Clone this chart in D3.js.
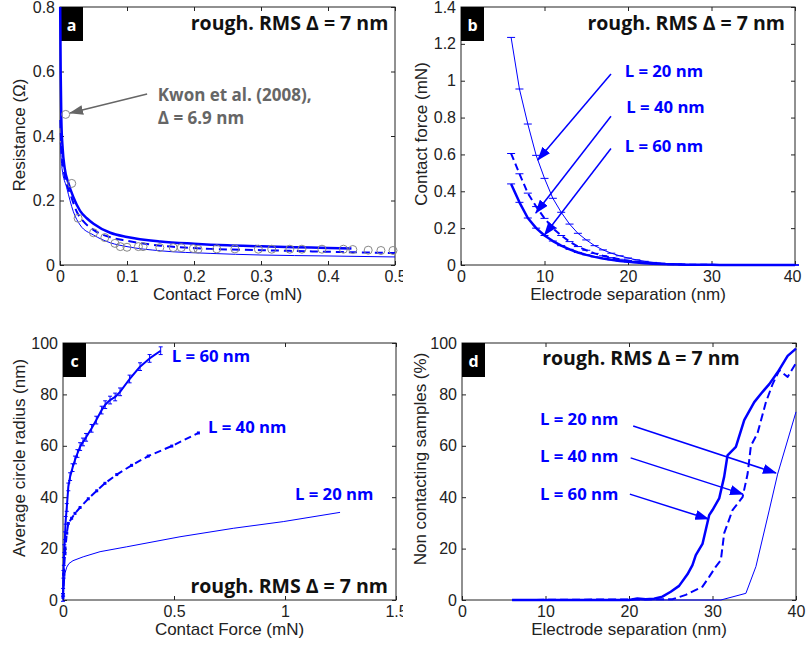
<!DOCTYPE html>
<html>
<head>
<meta charset="utf-8">
<script src="https://cdn.jsdelivr.net/npm/d3@7"></script>
<style>
  body { margin: 0; background: #fff; }
  svg { display: block; }
  .axlbl { font-family: "Liberation Sans", Arial, sans-serif; font-size: 17px; fill: #222; }
  .bold { font-family: "Open Sans", Lato, sans-serif; font-weight: bold; }
</style>
</head>
<body>
<svg id="chart"></svg>
<script>
const width = 806;
const height = 645;
const blue = "#0000ff";

// ---- panel a : resistance vs contact force ----
const aForce60 = [0.0003, 0.001, 0.002, 0.004, 0.007, 0.0124, 0.02, 0.03, 0.04, 0.05, 0.075, 0.1, 0.15, 0.2, 0.25, 0.3, 0.35, 0.4, 0.435];
const aRes60   = [0.8, 0.6, 0.45, 0.36, 0.3, 0.255, 0.21, 0.168, 0.145, 0.128, 0.1, 0.087, 0.073, 0.066, 0.061, 0.058, 0.055, 0.053, 0.051];
const aForce40 = [0.0005, 0.002, 0.005, 0.01, 0.015, 0.025, 0.035, 0.05, 0.075, 0.1, 0.15, 0.224, 0.3, 0.4, 0.5];
const aRes40   = [0.45, 0.36, 0.3, 0.25, 0.222, 0.165, 0.135, 0.109, 0.086, 0.075, 0.06, 0.05, 0.046, 0.041, 0.037];
const aForce20 = [0.0005, 0.003, 0.01, 0.02, 0.03, 0.05, 0.075, 0.1, 0.15, 0.224, 0.3, 0.4, 0.5];
const aRes20   = [0.38, 0.3, 0.24, 0.165, 0.124, 0.093, 0.069, 0.057, 0.044, 0.036, 0.031, 0.028, 0.025];
const kwonForce = [0.0085, 0.0175, 0.027, 0.05, 0.067, 0.082, 0.09, 0.1, 0.117, 0.124, 0.149, 0.169, 0.181, 0.199, 0.206, 0.234, 0.261, 0.296, 0.316, 0.343, 0.361, 0.391, 0.423, 0.437, 0.46, 0.479, 0.497];
const kwonRes   = [0.467, 0.253, 0.145, 0.1, 0.085, 0.067, 0.057, 0.055, 0.057, 0.057, 0.054, 0.054, 0.054, 0.051, 0.049, 0.05, 0.05, 0.049, 0.049, 0.049, 0.049, 0.049, 0.049, 0.048, 0.046, 0.045, 0.045];

// ---- panel b : contact force vs electrode separation ----
const bSep = d3.range(6, 41);
const bForce20 = [1.235, 0.955, 0.765, 0.595, 0.47, 0.362, 0.286, 0.222, 0.172, 0.136, 0.105, 0.082, 0.064, 0.05, 0.038, 0.028, 0.02, 0.014, 0.01, 0.007, 0.005, 0.003, 0.002, 0.0015, 0.001, 0.001, 0.001, 0, 0, 0, 0, 0, 0, 0, 0];
const bForce40 = [0.605, 0.495, 0.39, 0.317, 0.253, 0.2, 0.16, 0.127, 0.1, 0.08, 0.063, 0.05, 0.04, 0.031, 0.024, 0.018, 0.013, 0.009, 0.006, 0.004, 0.003, 0.002, 0.001, 0.001, 0.001, 0, 0, 0, 0, 0, 0, 0, 0, 0, 0];
const bForce60 = [0.44, 0.34, 0.255, 0.2, 0.16, 0.13, 0.105, 0.085, 0.068, 0.055, 0.044, 0.035, 0.028, 0.022, 0.017, 0.013, 0.01, 0.007, 0.005, 0.004, 0.003, 0.002, 0.001, 0.001, 0.001, 0, 0, 0, 0, 0, 0, 0, 0, 0, 0];

// ---- panel c : average circle radius vs contact force ----
const cForce60  = [0, 0.0005, 0.002, 0.004, 0.006, 0.009, 0.012, 0.017, 0.024, 0.032, 0.043, 0.054, 0.065, 0.077, 0.09, 0.104, 0.129, 0.15, 0.174, 0.19, 0.212, 0.235, 0.257, 0.3, 0.347, 0.39, 0.44];
const cRadius60 = [1, 3, 10, 15, 20, 25, 31, 36, 44, 48, 51.5, 54.5, 57, 59.7, 61.5, 63.3, 66.8, 70, 73.9, 76, 77.8, 79, 81, 86, 90.8, 94, 97];
const cForce40  = [0, 0.0005, 0.003, 0.009, 0.017, 0.024, 0.039, 0.054, 0.077, 0.114, 0.152, 0.189, 0.242, 0.309, 0.384, 0.49, 0.61];
const cRadius40 = [1, 2, 10, 18, 26, 29.8, 31.8, 33.7, 36, 39.4, 42.5, 45.4, 48.8, 52.4, 56, 59.9, 65];
const cForce20  = [0, 0.001, 0.005, 0.009, 0.017, 0.027, 0.045, 0.091, 0.167, 0.287, 0.527, 0.767, 0.992, 1.248];
const cRadius20 = [1, 2, 5.2, 10.4, 12.8, 14.2, 15.3, 16.8, 18.8, 20.7, 24.6, 27.9, 30.5, 34.1];

// ---- panel d : non contacting samples vs electrode separation ----
const dSep60 = [6, 20, 21, 22, 23, 24, 25, 26, 27, 27.6, 28, 28.8, 29.6, 30, 30.8, 31.4, 31.8, 32.8, 33.8, 35, 36, 36.8, 37.8, 39, 40];
const dPct60 = [0, 0, 0.6, 0.3, 0.5, 1.3, 3.2, 5.5, 10, 13.6, 17.5, 21.8, 33, 35, 39.5, 48, 56.3, 59.6, 70, 77, 81, 84, 88.6, 95, 97.8];
const dSep40 = [6, 25.2, 26.8, 28.8, 29.6, 30.4, 31, 31.4, 32.4, 33.6, 34.2, 34.6, 35.4, 36.4, 37.2, 38, 39, 40];
const dPct40 = [0, 0.3, 2, 5.2, 9, 13, 15.5, 26, 35, 40, 49, 60, 65, 77, 84, 89.4, 86.8, 92.2];
const dSep20 = [6, 31, 34, 35.2, 36.8, 37.8, 40];
const dPct20 = [0, 0, 2.6, 13, 35, 49, 73.2];

// tick values
const aXTicks = [0, 0.1, 0.2, 0.3, 0.4, 0.5];
const aYTicks = [0, 0.2, 0.4, 0.6, 0.8];
const sepTicks = [0, 10, 20, 30, 40];
const bYTicks = [0, 0.2, 0.4, 0.6, 0.8, 1, 1.2, 1.4];
const cXTicks = [0, 0.5, 1, 1.5];
const pctTicks = [0, 20, 40, 60, 80, 100];

const title = "rough. RMS \u0394 = 7 nm";

const svg = d3.select("#chart").attr("width", width).attr("height", height);
const defs = svg.append("defs");
defs.append("clipPath").attr("id", "clipL").append("rect").attr("x", 0).attr("y", 0).attr("width", 403).attr("height", height);
defs.append("clipPath").attr("id", "clipR").append("rect").attr("x", 403).attr("y", 0).attr("width", 403).attr("height", height);

function marker(id, color) {
  defs.append("marker")
      .attr("id", id)
      .attr("markerUnits", "userSpaceOnUse")
      .attr("markerWidth", 14).attr("markerHeight", 10)
      .attr("refX", 13).attr("refY", 5)
      .attr("orient", "auto")
    .append("path").attr("d", "M0,0 L14,5 L0,10 Z").attr("fill", color);
}
marker("arrBlue", blue);
marker("arrGray", "#666");

function panel(o) {
  const g = svg.append("g").attr("clip-path", `url(#${o.clip})`);
  const x = d3.scaleLinear().domain(o.xDomain).range([o.left, o.left + o.w]);
  const y = d3.scaleLinear().domain(o.yDomain).range([o.top + o.h, o.top]);
  const font = g => g.attr("font-size", 16).attr("font-family", '"Liberation Sans", Arial, sans-serif')
                     .attr("color", "#222").call(s => s.select(".domain").remove());

  g.append("g").attr("transform", `translate(0,${o.top + o.h})`)
   .call(d3.axisBottom(x).tickValues(o.xTicks).tickSizeInner(-4).tickSizeOuter(0).tickPadding(6).tickFormat(d => d))
   .call(font);
  g.append("g").attr("transform", `translate(0,${o.top})`)
   .call(d3.axisTop(x).tickValues(o.xTicks).tickSizeInner(-4).tickSizeOuter(0).tickFormat(""))
   .call(font);
  g.append("g").attr("transform", `translate(${o.left},0)`)
   .call(d3.axisLeft(y).tickValues(o.yTicks).tickSizeInner(-4).tickSizeOuter(0).tickPadding(5).tickFormat(d => d))
   .call(font);
  g.append("g").attr("transform", `translate(${o.left + o.w},0)`)
   .call(d3.axisRight(y).tickValues(o.yTicks).tickSizeInner(-4).tickSizeOuter(0).tickFormat(""))
   .call(font);

  g.append("rect")
   .attr("x", o.left).attr("y", o.top).attr("width", o.w).attr("height", o.h)
   .attr("fill", "none").attr("stroke", "#222").attr("stroke-width", 1);

  g.append("text").attr("class", "axlbl")
   .attr("x", o.left + o.w / 2).attr("y", o.top + o.h + 35)
   .attr("text-anchor", "middle").text(o.xLabel);
  g.append("text").attr("class", "axlbl")
   .attr("transform", `translate(${o.yLabelX},${o.yLabelY}) rotate(-90)`)
   .attr("text-anchor", "middle").text(o.yLabel);

  // letter box
  g.append("rect").attr("x", o.left).attr("y", o.top).attr("width", 23).attr("height", 34).attr("fill", "#000");
  g.append("text").attr("class", "bold")
   .attr("x", o.left + 11.5).attr("y", o.top + 24)
   .attr("text-anchor", "middle").attr("font-size", 16).attr("fill", "#fff").text(o.letter);

  return { g, x, y };
}

function curve(p, xs, ys, widthPx, dash, curveType) {
  const line = d3.line().x(d => p.x(d[0])).y(d => p.y(d[1])).curve(curveType || d3.curveLinear);
  p.g.append("path")
     .datum(d3.zip(xs, ys))
     .attr("d", line)
     .attr("fill", "none")
     .attr("stroke", blue)
     .attr("stroke-width", widthPx)
     .attr("stroke-dasharray", dash || null)
     .attr("stroke-linejoin", "round");
}

function label(p, xv, yv, txt, anchor, color, size) {
  return p.g.append("text").attr("class", "bold")
    .attr("x", p.x(xv)).attr("y", p.y(yv))
    .attr("text-anchor", anchor || "start")
    .attr("font-size", size || 16.7)
    .attr("fill", color || blue)
    .text(txt);
}

function arrow(p, x1, y1, x2, y2, color, id) {
  p.g.append("line")
   .attr("x1", p.x(x1)).attr("y1", p.y(y1))
   .attr("x2", p.x(x2)).attr("y2", p.y(y2))
   .attr("stroke", color).attr("stroke-width", 1.5)
   .attr("marker-end", `url(#${id})`);
}

// ---------- a ----------
const pa = panel({
  clip: "clipL", left: 60, top: 7, w: 335, h: 258,
  xDomain: [0, 0.5], yDomain: [0, 0.8], xTicks: aXTicks, yTicks: aYTicks,
  xLabel: "Contact Force (mN)", yLabel: "Resistance (\u03A9)", yLabelX: 25, yLabelY: 135, letter: "a"
});
curve(pa, aForce20, aRes20, 1, null, d3.curveMonotoneX);
curve(pa, aForce40, aRes40, 2, "8,5", d3.curveMonotoneX);
curve(pa, aForce60, aRes60, 2.5, null, d3.curveMonotoneX);
pa.g.selectAll(".kwon")
  .data(d3.zip(kwonForce, kwonRes))
  .enter().append("circle")
  .attr("class", "kwon")
  .attr("cx", d => pa.x(d[0])).attr("cy", d => pa.y(d[1]))
  .attr("r", 4).attr("fill", "none").attr("stroke", "#888").attr("stroke-width", 1);
label(pa, 0.49, 0.73, title, "end", "#111", 19.5);
label(pa, 0.146, 0.51, "Kwon et al. (2008),", "start", "#666", 17);
label(pa, 0.146, 0.437, "\u0394 = 6.9 nm", "start", "#666", 17);
arrow(pa, 0.13, 0.53, 0.015, 0.471, "#666", "arrGray");

// ---------- b ----------
const pb = panel({
  clip: "clipR", left: 461, top: 7, w: 334, h: 258,
  xDomain: [0, 40], yDomain: [0, 1.4], xTicks: sepTicks, yTicks: bYTicks,
  xLabel: "Electrode separation (nm)", yLabel: "Contact force (mN)", yLabelX: 427, yLabelY: 134, letter: "b"
});
pb.g.selectAll(".tick text").filter(d => d === 40).attr("text-anchor", "end").attr("dx", 6);
[[bForce20, 1, null], [bForce40, 2, "7,4"], [bForce60, 2.5, null]].forEach(([ys, w, dash]) => {
  curve(pb, bSep, ys, w, dash);
  pb.g.append("g").selectAll("line")
    .data(d3.zip(bSep, ys))
    .enter().append("line")
    .attr("x1", d => pb.x(d[0]) - 4).attr("x2", d => pb.x(d[0]) + 4)
    .attr("y1", d => pb.y(d[1])).attr("y2", d => pb.y(d[1]))
    .attr("stroke", blue).attr("stroke-width", 1);
});
label(pb, 38.8, 1.273, title, "end", "#111", 19.5);
label(pb, 19.6, 1.02, "L = 20 nm");
label(pb, 19.8, 0.825, "L = 40 nm");
label(pb, 19.6, 0.613, "L = 60 nm");
arrow(pb, 17.96, 1.036, 9.2, 0.57, blue, "arrBlue");
arrow(pb, 17.96, 0.807, 8.96, 0.282, blue, "arrBlue");
arrow(pb, 17.96, 0.632, 10.0, 0.163, blue, "arrBlue");

// ---------- c ----------
const pc = panel({
  clip: "clipL", left: 63, top: 343, w: 333, h: 257,
  xDomain: [0, 1.5], yDomain: [0, 100], xTicks: cXTicks, yTicks: pctTicks,
  xLabel: "Contact Force (mN)", yLabel: "Average circle radius (nm)", yLabelX: 25, yLabelY: 458, letter: "c"
});
curve(pc, cForce20, cRadius20, 1);
curve(pc, cForce40, cRadius40, 2, "7,4");
curve(pc, cForce60, cRadius60, 2);
const eb = pc.g.append("g").attr("stroke", blue).attr("stroke-width", 1);
d3.zip(cForce60, cRadius60).forEach(d => {
  const cx = pc.x(d[0]);
  eb.append("line").attr("x1", cx).attr("x2", cx).attr("y1", pc.y(d[1] - 1.5)).attr("y2", pc.y(d[1] + 1.5));
  eb.append("line").attr("x1", cx - 2).attr("x2", cx + 2).attr("y1", pc.y(d[1] + 1.5)).attr("y2", pc.y(d[1] + 1.5));
  eb.append("line").attr("x1", cx - 2).attr("x2", cx + 2).attr("y1", pc.y(d[1] - 1.5)).attr("y2", pc.y(d[1] - 1.5));
});
pc.g.append("g").selectAll("rect")
  .data(d3.zip(cForce40, cRadius40))
  .enter().append("rect")
  .attr("x", d => pc.x(d[0]) - 1.5).attr("y", d => pc.y(d[1]) - 1.5)
  .attr("width", 3).attr("height", 3).attr("fill", blue);
label(pc, 0.49, 92.7, "L = 60 nm");
label(pc, 0.653, 65, "L = 40 nm");
label(pc, 1.045, 38.9, "L = 20 nm");
label(pc, 1.464, 2.7, title, "end", "#111", 19.5);

// ---------- d ----------
const pd = panel({
  clip: "clipR", left: 462, top: 343, w: 334, h: 257,
  xDomain: [0, 40], yDomain: [0, 100], xTicks: sepTicks, yTicks: pctTicks,
  xLabel: "Electrode separation (nm)", yLabel: "Non contacting samples (%)", yLabelX: 426, yLabelY: 459, letter: "d"
});
curve(pd, dSep20, dPct20, 1);
curve(pd, dSep40, dPct40, 2, "8,4");
curve(pd, dSep60, dPct60, 2.5);
label(pd, 9.6, 91.4, title, "start", "#111", 19.5);
label(pd, 9.34, 68, "L = 20 nm");
label(pd, 9.34, 53.7, "L = 40 nm");
label(pd, 9.34, 38.9, "L = 60 nm");
arrow(pd, 20.5, 67.7, 37.6, 49.4, blue, "arrBlue");
arrow(pd, 20.2, 55.3, 33.65, 41.2, blue, "arrBlue");
arrow(pd, 20.1, 41.2, 29.5, 31.5, blue, "arrBlue");
</script>
</body>
</html>
